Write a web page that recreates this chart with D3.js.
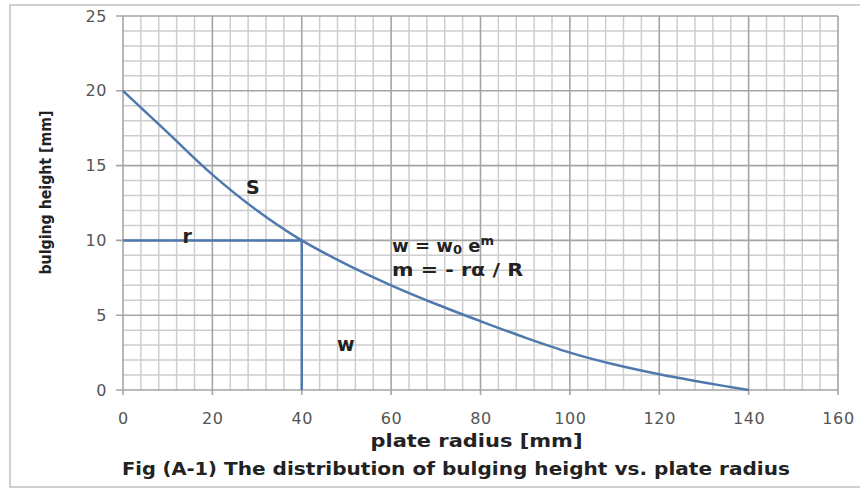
<!DOCTYPE html>
<html>
<head>
<meta charset="utf-8">
<script src="https://cdn.jsdelivr.net/npm/d3@7"></script>
<style>
  body { margin: 0; background: #fff; }
  svg { display: block; }
  .tick-label { font-family: 'DejaVu Sans', sans-serif; font-size: 16px; fill: #555; letter-spacing: 0.6px; }
  .title { font-family: 'DejaVu Sans', sans-serif; font-weight: bold; fill: #222; }
  .note { font-family: 'DejaVu Sans', sans-serif; font-weight: bold; fill: #222; }
</style>
</head>
<body>
<div id="chartContainer"></div>
<script>
// plate radius [mm] and bulging height [mm]
const radius = [0, 10, 20, 30, 40, 50, 60, 70, 80, 90, 100, 110, 120, 130, 140];
const height = [20, 17.2, 14.4, 12.0, 10, 8.4, 7.0, 5.75, 4.6, 3.5, 2.5, 1.7, 1.05, 0.5, 0];

// guide lines r (horizontal) and w (vertical) meeting the curve at r = 40
const guideX = [0, 40, 40];
const guideY = [10, 10, 0];

const xTicks = [0, 20, 40, 60, 80, 100, 120, 140, 160];
const yTicks = [0, 5, 10, 15, 20, 25];

const svgWidth = 860;
const svgHeight = 489;
const margin = { top: 16, right: 22, bottom: 99, left: 123 };
const chartWidth = svgWidth - margin.left - margin.right;
const chartHeight = svgHeight - margin.top - margin.bottom;

const svg = d3.select('#chartContainer')
    .append('svg')
    .attr('width', svgWidth)
    .attr('height', svgHeight);

// outer frame of the picture
svg.append('rect')
    .attr('x', 10).attr('y', 5)
    .attr('width', 870).attr('height', 482)
    .attr('fill', 'none')
    .attr('stroke', '#cfcfcf')
    .attr('stroke-width', 2);

const xScale = d3.scaleLinear().domain([0, 160]).range([0, chartWidth]);
const yScale = d3.scaleLinear().domain([0, 25]).range([chartHeight, 0]);

const chart = svg.append('g')
    .attr('transform', `translate(${margin.left}, ${margin.top})`);

// minor grid
chart.append('g')
    .selectAll('line')
    .data(d3.range(0, 161, 4).filter(v => v % 20 !== 0))
    .enter().append('line')
    .attr('x1', d => xScale(d)).attr('x2', d => xScale(d))
    .attr('y1', 0).attr('y2', chartHeight)
    .attr('stroke', '#cdcdcd').attr('stroke-width', 1.5);

chart.append('g')
    .selectAll('line')
    .data(d3.range(0, 26, 1).filter(v => v % 5 !== 0))
    .enter().append('line')
    .attr('x1', 0).attr('x2', chartWidth)
    .attr('y1', d => yScale(d)).attr('y2', d => yScale(d))
    .attr('stroke', '#cdcdcd').attr('stroke-width', 1.5);

// major grid
chart.append('g')
    .selectAll('line')
    .data(xTicks)
    .enter().append('line')
    .attr('x1', d => xScale(d)).attr('x2', d => xScale(d))
    .attr('y1', 0).attr('y2', chartHeight + 5)
    .attr('stroke', '#a5a5a5').attr('stroke-width', 1.6);

chart.append('g')
    .selectAll('line')
    .data(yTicks)
    .enter().append('line')
    .attr('x1', -7).attr('x2', chartWidth)
    .attr('y1', d => yScale(d)).attr('y2', d => yScale(d))
    .attr('stroke', '#a5a5a5').attr('stroke-width', 1.6);

// axis labels
const xAxis = d3.axisBottom(xScale).tickValues(xTicks).tickSize(0).tickPadding(23);
chart.append('g')
    .attr('transform', `translate(0, ${chartHeight})`)
    .call(xAxis)
    .call(g => g.select('.domain').remove())
    .selectAll('text')
    .attr('class', 'tick-label')
    .attr('font-size', null).attr('font-family', null);

const yAxis = d3.axisLeft(yScale).tickValues(yTicks).tickSize(0).tickPadding(16);
chart.append('g')
    .call(yAxis)
    .call(g => g.select('.domain').remove())
    .selectAll('text')
    .attr('class', 'tick-label')
    .attr('font-size', null).attr('font-family', null);

// guide lines
const guide = d3.line()
    .x((d, i) => xScale(guideX[i]))
    .y(d => yScale(d));

chart.append('path')
    .datum(guideY)
    .attr('d', guide)
    .attr('fill', 'none')
    .attr('stroke', '#4f79ad')
    .attr('stroke-width', 2.5);

// curve
const line = d3.line()
    .x((d, i) => xScale(radius[i]))
    .y(d => yScale(d))
    .curve(d3.curveCatmullRom);

chart.append('path')
    .datum(height)
    .attr('d', line)
    .attr('fill', 'none')
    .attr('stroke', '#4f79ad')
    .attr('stroke-width', 2.5);

// curve notes
chart.append('text').attr('class', 'note').style('font-size', '19px')
    .attr('x', xScale(27.5)).attr('y', yScale(13.1)).text('S');
chart.append('text').attr('class', 'note').style('font-size', '19px')
    .attr('x', xScale(13.3)).attr('y', yScale(9.8)).text('r');
chart.append('text').attr('class', 'note').style('font-size', '19px')
    .attr('x', xScale(47.9)).attr('y', yScale(2.6)).text('w');

const f1 = chart.append('text').attr('class', 'note').style('font-size', '18px')
    .attr('x', xScale(60.2)).attr('y', yScale(9.2));
f1.append('tspan').text('w = w');
f1.append('tspan').style('font-size', '13px').attr('dy', 2).text('0');
f1.append('tspan').attr('dy', -2).text('  e');
f1.append('tspan').style('font-size', '13px').attr('dy', -7).text('m');

chart.append('text').attr('class', 'note').style('font-size', '17px')
    .attr('x', xScale(60.2)).attr('y', yScale(7.6))
    .attr('textLength', 131).attr('lengthAdjust', 'spacingAndGlyphs')
    .text('m = - rα / R');

// axis titles
chart.append('text')
    .attr('class', 'title')
    .attr('x', xScale(80) - 4)
    .attr('y', chartHeight + 57)
    .attr('text-anchor', 'middle')
    .style('font-size', '18px')
    .attr('textLength', 212).attr('lengthAdjust', 'spacingAndGlyphs')
    .text('plate radius [mm]');

chart.append('text')
    .attr('class', 'title')
    .attr('transform', `translate(${-margin.left + 51}, ${yScale(13.2)}) rotate(-90)`)
    .attr('text-anchor', 'middle')
    .style('font-size', '15px')
    .attr('textLength', 164).attr('lengthAdjust', 'spacingAndGlyphs')
    .text('bulging  height [mm]');

// caption
svg.append('text')
    .attr('class', 'title')
    .attr('x', 122).attr('y', 475)
    .style('font-size', '17px')
    .attr('textLength', 95).attr('lengthAdjust', 'spacingAndGlyphs')
    .text('Fig (A-1)');

svg.append('text')
    .attr('class', 'title')
    .attr('x', 224).attr('y', 475)
    .style('font-size', '17px')
    .attr('textLength', 566).attr('lengthAdjust', 'spacingAndGlyphs')
    .text('The distribution of bulging height vs. plate radius');
</script>
</body>
</html>
